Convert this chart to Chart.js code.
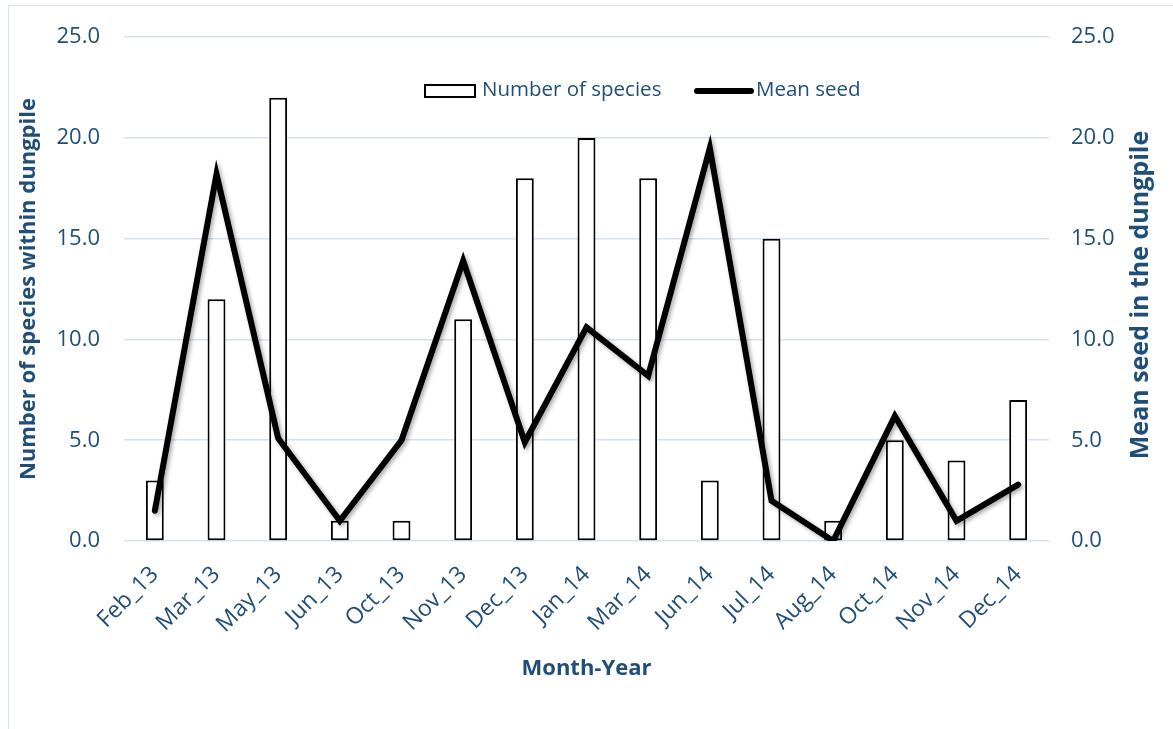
<!DOCTYPE html>
<html>
<head>
<meta charset="utf-8">
<title>Species and mean seed by month</title>
<script src="https://cdn.jsdelivr.net/npm/chart.js@4.4.1/dist/chart.umd.min.js"></script>
<style>
  html, body { margin: 0; padding: 0; background: #fff; }
  #wrap { position: relative; width: 1173px; height: 729px; overflow: hidden; }
  #frame { position: absolute; left: 8px; top: 5px; width: 1300px; height: 900px; border: 1px solid #d6e1f0; }
  canvas { position: absolute; left: 0; top: 0; }
</style>
</head>
<body>
<div id="wrap">
  <div id="frame"></div>
  <canvas id="myChart" width="1173" height="729"></canvas>
</div>
<script>
// data ---------------------------------------------
const months = ["Feb_13", "Mar_13", "May_13", "Jun_13", "Oct_13", "Nov_13", "Dec_13",
  "Jan_14", "Mar_14", "Jun_14", "Jul_14", "Aug_14", "Oct_14", "Nov_14", "Dec_14"];
const speciesCount = [3, 12, 22, 1, 1, 11, 18, 20, 18, 3, 15, 1, 5, 4, 7];
const meanSeed = [1.5, 18.2, 5.1, 1.0, 5.0, 13.9, 4.9, 10.6, 8.2, 19.5, 2.0, 0.0, 6.2, 1.0, 2.8];
const axisMin = 0;
const axisMax = 25;
const axisStep = 5;

const navy = "#1f4e79";
const gridBlue = "#d6e1f0";
const fontName = "'Open Sans', 'Noto Sans', sans-serif";

// legend drawn inside the plot, plus the right title reading bottom-to-top
const extras = {
  id: "extras",
  beforeDatasetDraw(chart, args) {
    if (args.index === 1) {
      const ctx = chart.ctx;
      ctx.save();
      ctx.shadowColor = "rgba(0,0,0,0.35)";
      ctx.shadowBlur = 4;
      ctx.shadowOffsetX = 2;
      ctx.shadowOffsetY = 2;
    }
  },
  afterDatasetDraw(chart, args) {
    if (args.index === 1) chart.ctx.restore();
  },
  afterDraw(chart) {
    const ctx = chart.ctx;
    const bars = chart.data.datasets[0];
    const line = chart.data.datasets[1];
    ctx.save();
    ctx.font = "20.5px " + fontName;
    ctx.textBaseline = "middle";

    // bar sample
    ctx.fillStyle = bars.backgroundColor;
    ctx.fillRect(425, 85, 50, 12);
    ctx.lineWidth = 2;
    ctx.strokeStyle = bars.borderColor;
    ctx.strokeRect(425, 85, 50, 12);
    ctx.fillStyle = navy;
    ctx.fillText(bars.label, 482, 90);

    // line sample
    ctx.beginPath();
    ctx.lineCap = "round";
    ctx.lineWidth = line.borderWidth;
    ctx.strokeStyle = line.borderColor;
    ctx.moveTo(697, 91);
    ctx.lineTo(751, 91);
    ctx.stroke();
    ctx.fillText(line.label, 756, 90);

    // right axis title
    ctx.translate(1141, 295);
    ctx.rotate(-Math.PI / 2);
    ctx.textAlign = "center";
    ctx.font = "bold 25px " + fontName;
    ctx.fillText("Mean seed in the dungpile", 0, 0);
    ctx.restore();
  },
};

const ctx = document.getElementById("myChart").getContext("2d");
const myChart = new Chart(ctx, {
  type: "bar",
  data: {
    labels: months,
    datasets: [
      {
        type: "bar",
        label: "Number of species",
        data: speciesCount,
        backgroundColor: "#ffffff",
        borderColor: "#000000",
        borderWidth: 2,
        borderSkipped: false,
        categoryPercentage: 1,
        barPercentage: 0.29,
        yAxisID: "y",
        order: 2,
      },
      {
        type: "line",
        label: "Mean seed",
        data: meanSeed,
        borderColor: "#000000",
        borderWidth: 6,
        borderCapStyle: "round",
        pointRadius: 0,
        tension: 0,
        fill: false,
        yAxisID: "y1",
        order: 1,
      },
    ],
  },
  options: {
    responsive: false,
    animation: false,
    layout: { padding: { top: 37, left: 0, right: 0, bottom: 0 } },
    plugins: {
      legend: { display: false },
      tooltip: { enabled: false },
    },
    scales: {
      x: {
        grid: { display: false },
        border: { display: false },
        ticks: {
          color: navy,
          font: { family: fontName, size: 23 },
          minRotation: 45,
          maxRotation: 45,
          padding: 12,
        },
        title: {
          display: true,
          text: "Month-Year",
          color: navy,
          font: { family: fontName, size: 22, weight: "bold" },
          padding: { top: 0, bottom: 47 },
        },
        afterFit(scale) {
          scale.height = 188;
        },
      },
      y: {
        position: "left",
        min: axisMin,
        max: axisMax,
        grid: { color: gridBlue, lineWidth: 1.5, drawTicks: false },
        border: { display: false },
        ticks: {
          stepSize: axisStep,
          padding: 24,
          color: navy,
          font: { family: fontName, size: 22 },
          callback: (v) => v.toFixed(1),
        },
        title: {
          display: true,
          text: "Number of species within dungpile",
          color: navy,
          font: { family: fontName, size: 22, weight: "bold" },
          padding: { top: 16, bottom: 0 },
        },
        afterFit(scale) {
          scale.width = 124;
        },
      },
      y1: {
        position: "right",
        min: axisMin,
        max: axisMax,
        grid: { display: false, drawTicks: false },
        border: { display: false },
        ticks: {
          stepSize: axisStep,
          padding: 22,
          color: navy,
          font: { family: fontName, size: 22 },
          callback: (v) => v.toFixed(1),
        },
        afterFit(scale) {
          scale.width = 124;
        },
      },
    },
  },
  plugins: [extras],
});
</script>
</body>
</html>
